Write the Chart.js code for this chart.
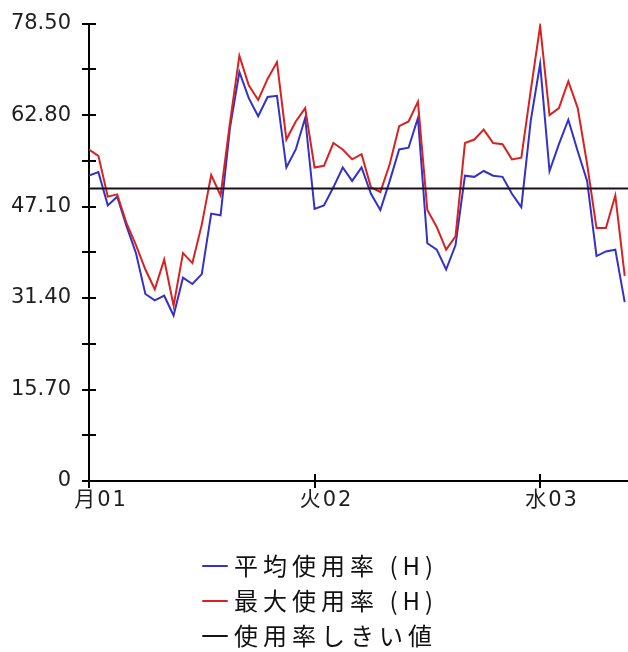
<!DOCTYPE html>
<html>
<head>
<meta charset="utf-8">
<script src="https://cdn.jsdelivr.net/npm/chart.js@4/dist/chart.umd.min.js"></script>
<style>
  html, body { margin: 0; padding: 0; background: #ffffff; }
  #wrap { width: 628px; height: 652px; }
  canvas { display: block; }
</style>
</head>
<body>
<div id="wrap"><canvas id="chart" width="628" height="652"></canvas></div>
<script>
// ---- data (hourly samples, hour 0 = 月01 00:00) ----
const avgUsage = [52.4, 53.0, 47.3, 48.8, 43.7, 39.1, 32.1, 31.0, 31.8, 28.4, 34.9, 33.8,
  35.5, 45.9, 45.6, 60.6, 70.2, 65.7, 62.6, 65.9, 66.1, 53.8, 56.9, 62.3,
  46.7, 47.3, 50.4, 53.8, 51.5, 53.8, 49.3, 46.5, 51.5, 56.9, 57.2, 62.3,
  40.8, 39.7, 36.3, 40.5, 52.4, 52.2, 53.2, 52.4, 52.2, 49.3, 47.0, 61.8,
  71.6, 53.2, 57.8, 62.0, 56.6, 51.5, 38.6, 39.4, 39.7, 30.7];
const maxUsage = [56.9, 55.8, 48.8, 49.2, 44.2, 40.5, 36.3, 32.9, 38.0, 30.1, 39.1, 37.4,
  44.0, 52.5, 49.0, 61.5, 73.0, 67.9, 65.4, 69.0, 71.9, 58.6, 61.7, 64.0,
  53.8, 54.1, 58.0, 56.9, 55.2, 56.1, 50.4, 49.6, 54.4, 60.9, 61.7, 65.1,
  46.5, 43.6, 39.7, 42.0, 58.0, 58.6, 60.3, 58.0, 57.8, 55.2, 55.5, 67.0,
  78.1, 62.8, 64.0, 68.6, 64.0, 54.4, 43.4, 43.4, 49.0, 35.2];
const threshold = 50.2;
const seriesNames = ['平均使用率 (H)', '最大使用率 (H)', '使用率しきい値'];
const yTickValues = [0, 7.85, 15.7, 23.55, 31.4, 39.25, 47.1, 54.95, 62.8, 70.65, 78.5];
const yTickLabels = ['0', '', '15.70', '', '31.40', '', '47.10', '', '62.80', '', '78.50'];
const dayTickValues = [0, 24, 48];
const dayLabels = ['月01', '火02', '水03'];

// ---- styling ----
const X_MIN = 0, X_MAX = 57.35, Y_MIN = 0, Y_MAX = 78.5;
const BLUE = '#3232c8', RED = '#d82222', DARK = '#1a0f1a';
const FONT = "'DejaVu Sans', 'Noto Sans CJK JP', sans-serif";
const TEXT = '#1e1e1e';

const innerTicks = {
  id: 'innerTicks',
  afterDraw(chart) {
    const { ctx, chartArea, scales: { x, y } } = chart;
    ctx.save();
    ctx.strokeStyle = '#000';
    ctx.lineWidth = 2;
    y.ticks.forEach(t => {
      const py = Math.round(y.getPixelForValue(t.value));
      ctx.beginPath(); ctx.moveTo(chartArea.left, py); ctx.lineTo(chartArea.left + 7, py); ctx.stroke();
    });
    x.ticks.forEach(t => {
      const px = Math.round(x.getPixelForValue(t.value));
      ctx.beginPath(); ctx.moveTo(px, chartArea.bottom); ctx.lineTo(px, chartArea.bottom - 7); ctx.stroke();
    });
    ctx.restore();
  }
};

function withSpacing(obj, method, spacing) {
  if (!obj || obj['_sp_' + method]) return;
  const orig = obj[method].bind(obj);
  obj[method] = function (a) {
    const c = this.ctx;
    c.save();
    c.letterSpacing = spacing;
    orig(a);
    c.restore();
  };
  obj['_sp_' + method] = true;
}

const textSpacing = {
  id: 'textSpacing',
  afterInit(chart) { withSpacing(chart.legend, 'draw', '5px'); },
  beforeDraw(chart) { withSpacing(chart.scales.x, 'drawLabels', '2px'); },
  afterLayout(chart) {
    const lg = chart.legend;
    lg.left = 197; lg.top = 543; lg.right = 628; lg.bottom = 900;
    lg.width = lg.right - lg.left; lg.height = lg.bottom - lg.top;
  }
};

new Chart(document.getElementById('chart'), {
  type: 'line',
  data: {
    datasets: [
      { label: seriesNames[0], data: avgUsage.map((v, i) => ({ x: i, y: v })),
        borderColor: BLUE, backgroundColor: BLUE, borderWidth: 2, pointRadius: 0, tension: 0, order: 2 },
      { label: seriesNames[1], data: maxUsage.map((v, i) => ({ x: i, y: v })),
        borderColor: RED, backgroundColor: RED, borderWidth: 2, pointRadius: 0, tension: 0, order: 1 },
      { label: seriesNames[2], data: [{ x: X_MIN, y: threshold }, { x: X_MAX, y: threshold }],
        borderColor: DARK, backgroundColor: DARK, borderWidth: 2, pointRadius: 0, tension: 0, order: 0 }
    ]
  },
  options: {
    responsive: false,
    animation: false,
    layout: { padding: { top: 17, right: 0, bottom: 0, left: 0 } },
    scales: {
      x: {
        type: 'linear', min: X_MIN, max: X_MAX,
        afterBuildTicks: s => { s.ticks = dayTickValues.map(v => ({ value: v })); },
        afterFit: s => { s.height = 171; },
        ticks: { callback: (v, i) => dayLabels[i], autoSkip: false, maxRotation: 0, labelOffset: 12,
                 padding: 0, color: TEXT, font: { family: FONT, size: 21 } },
        grid: { drawOnChartArea: false, drawTicks: true, tickLength: 7, color: '#000', lineWidth: 2 },
        border: { display: true, color: '#000', width: 2 }
      },
      y: {
        min: Y_MIN, max: Y_MAX,
        afterBuildTicks: s => { s.ticks = yTickValues.map(v => ({ value: v })); },
        afterFit: s => { s.width = 89; },
        ticks: { callback: (v, i) => yTickLabels[i], autoSkip: false, padding: 11,
                 color: TEXT, font: { family: FONT, size: 21 } },
        grid: { drawOnChartArea: false, drawTicks: true, tickLength: 7, color: '#000', lineWidth: 2 },
        border: { display: true, color: '#000', width: 2 }
      }
    },
    plugins: {
      legend: {
        position: 'chartArea', align: 'start',
        labels: {
          usePointStyle: true, pointStyle: 'line', boxWidth: 14, boxHeight: 18,
          padding: 11, textAlign: 'left', color: '#111',
          font: { family: "'Noto Sans CJK JP', sans-serif", size: 24 },
          sort: (a, b) => a.datasetIndex - b.datasetIndex
        }
      },
      tooltip: { enabled: false }
    }
  },
  plugins: [innerTicks, textSpacing]
});
</script>
</body>
</html>
